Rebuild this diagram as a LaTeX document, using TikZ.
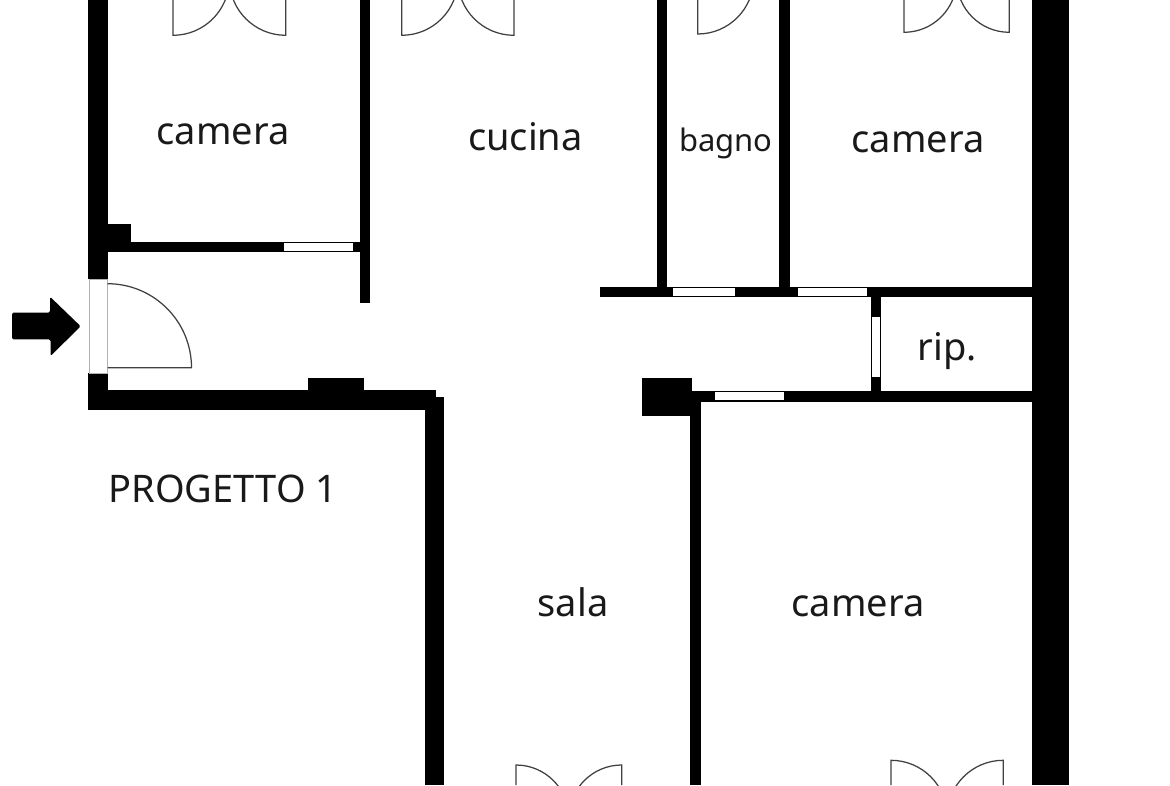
\documentclass[tikz,border=0pt]{standalone}
\usepackage{fontspec}
\setmainfont{Noto Sans}
\tikzset{
  wall/.style={fill=black,draw=none},
  pane/.style={fill=white,draw=none},
  leaf/.style={draw=black!75,line width=1.25pt},
  lab/.style={font=\fontsize{38}{40}\selectfont,text=black!90,inner sep=0pt,anchor=base},
}
\begin{document}
\begin{tikzpicture}[x=1pt,y=-1pt]
\useasboundingbox (0,0) rectangle (1170,785);
% walls
\fill[wall] (88,0) rectangle (108,279);
\fill[wall] (88,373) rectangle (108,410);
\fill[wall] (88,390.3) rectangle (436,410);
\fill[wall] (108,224) rectangle (131,252);
\fill[wall] (108,241.7) rectangle (370,252);
\fill[wall] (359.5,0) rectangle (370,302.7);
\fill[wall] (308,378) rectangle (364.3,391);
\fill[wall] (425,396.7) rectangle (444.3,785);
\fill[wall] (425,390.3) rectangle (436,400);
\fill[wall] (656.7,0) rectangle (667.3,290);
\fill[wall] (779.3,0) rectangle (790,290);
\fill[wall] (600.3,286.7) rectangle (1033,297.3);
\fill[wall] (870.7,290) rectangle (881.3,395);
\fill[wall] (690.3,391) rectangle (1033,401.7);
\fill[wall] (641.7,378.3) rectangle (692.3,416);
\fill[wall] (690.3,391) rectangle (700.7,785);
\fill[wall] (1032.3,0) rectangle (1069.3,785);
% windows
\fill[pane] (284.3,243) rectangle (353.3,250.7);
\fill[pane] (673.3,288.3) rectangle (735.3,295.7);
\fill[pane] (798,288.3) rectangle (866.7,295.7);
\fill[pane] (872.3,317.3) rectangle (879.7,377.3);
\fill[pane] (715.3,392.3) rectangle (784.3,400);
\draw[fill=white,draw=black!30,line width=0.5pt] (89.5,279) rectangle (107.5,373);
% entrance door
\draw[leaf] (107.5,283.7) arc[start angle=-90,end angle=0,radius=84] -- (107.5,367.7);
% french doors, top
\draw[leaf] (173,0) -- (173,35.3) arc[start angle=90,end angle=0,radius=56.3];
\draw[leaf] (285.7,0) -- (285.7,35.3) arc[start angle=90,end angle=180,radius=56.3];
\draw[leaf] (401.7,0) -- (401.7,35.3) arc[start angle=90,end angle=0,radius=56.2];
\draw[leaf] (514,0) -- (514,35.3) arc[start angle=90,end angle=180,radius=56.2];
\draw[leaf] (697.7,0) -- (697.7,34) arc[start angle=90,end angle=0,radius=56];
\draw[leaf] (904,0) -- (904,32.3) arc[start angle=90,end angle=0,radius=52.6];
\draw[leaf] (1009.3,0) -- (1009.3,32.3) arc[start angle=90,end angle=180,radius=52.6];
% french doors, bottom
\draw[leaf] (516,785) -- (516,765) arc[start angle=-90,end angle=0,radius=52.8];
\draw[leaf] (621.7,785) -- (621.7,765) arc[start angle=-90,end angle=-180,radius=52.8];
\draw[leaf] (891,785) -- (891,760.3) arc[start angle=-90,end angle=0,radius=56.2];
\draw[leaf] (1003.3,785) -- (1003.3,760.3) arc[start angle=-90,end angle=-180,radius=56.2];
% arrow
\fill[black,rounded corners=1.5pt] (12,312.7) -- (50,312.7) -- (50,296.7) -- (80.7,326.3) -- (50.5,356) -- (50.5,339.3) -- (12,339.3) -- cycle;
% labels
\node[lab] (l1) at (223,144) {camera};
\node[lab] (l2) at (525.5,150) {cucina};
\node[lab,font=\fontsize{31}{34}\selectfont] (l3) at (726,151) {bagno};
\node[lab] (l4) at (918,152) {camera};
\node[lab] (l5) at (947.5,360) {rip.};
\node[lab] (l6) at (223,502) {PROGETTO 1};
\node[lab] (l7) at (573,616) {sala};
\node[lab] (l8) at (858,616) {camera};
\end{tikzpicture}
\end{document}
